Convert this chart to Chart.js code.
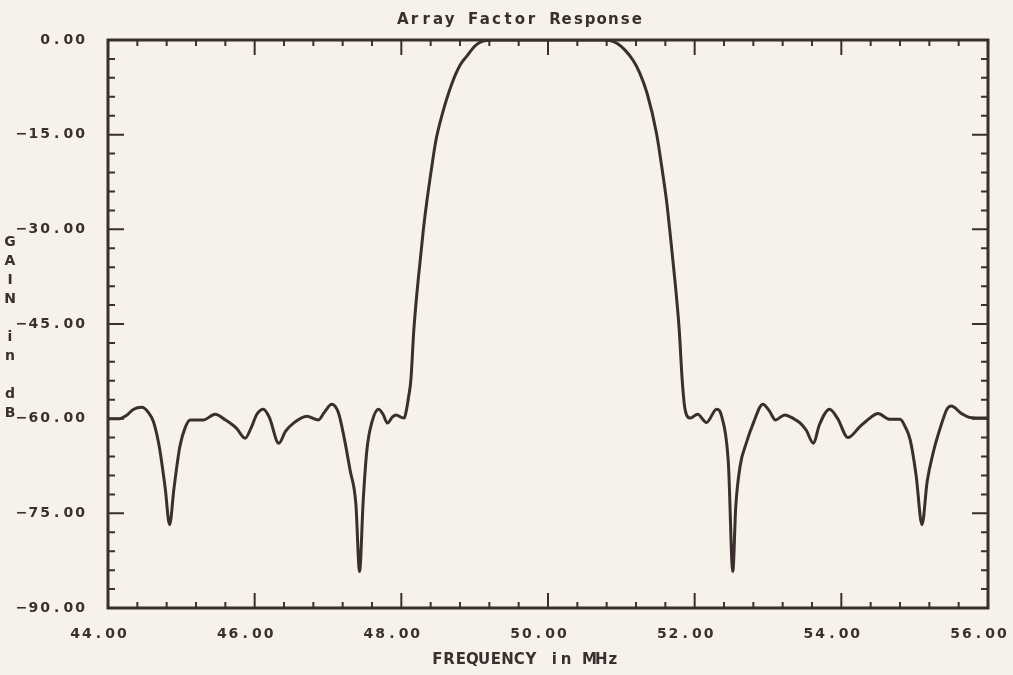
<!DOCTYPE html>
<html>
<head>
<meta charset="utf-8">
<script src="https://cdn.jsdelivr.net/npm/chart.js@4.4.1/dist/chart.umd.min.js"></script>
<style>
  html, body { margin: 0; padding: 0; background: #f6f2ea; }
  #wrap { width: 1013px; height: 675px; }
</style>
</head>
<body>
<div id="wrap"><canvas id="afChart"></canvas></div>
<script>
// frequency (MHz) and gain (dB)
const freqMHz = [
  44.00, 44.15, 44.25, 44.35, 44.46, 44.55, 44.62, 44.70, 44.78, 44.84,
  44.90, 44.98, 45.05, 45.12, 45.30, 45.46, 45.60, 45.75, 45.87, 45.95,
  46.03, 46.12, 46.20, 46.33, 46.42, 46.53, 46.71, 46.87, 46.95, 47.05,
  47.14, 47.22, 47.30, 47.38, 47.43, 47.48, 47.53, 47.60, 47.69, 47.75,
  47.81, 47.88, 47.93, 48.00, 48.04, 48.07, 48.10, 48.13, 48.17, 48.23,
  48.30, 48.35, 48.41, 48.47, 48.55, 48.69, 48.80, 48.89, 49.00, 49.07,
  49.15, 49.25, 50.00, 50.75, 50.85, 50.95, 51.05, 51.16, 51.25, 51.35,
  51.48, 51.57, 51.62, 51.66, 51.73, 51.79, 51.83, 51.87, 51.94, 52.04,
  52.16, 52.30, 52.37, 52.46, 52.52, 52.56, 52.62, 52.70, 52.80, 52.93,
  53.02, 53.10, 53.23, 53.35, 53.44, 53.52, 53.62, 53.70, 53.84, 53.95,
  54.09, 54.25, 54.40, 54.50, 54.66, 54.80, 54.88, 54.94, 55.02, 55.10,
  55.17, 55.25, 55.37, 55.44, 55.50, 55.64, 55.75, 56.00
];
const gainDb = [
  -60.0, -60.0, -59.5, -58.5, -58.2, -59.0, -60.5, -64.5, -71.0, -76.8,
  -71.0, -64.4, -61.5, -60.2, -60.2, -59.3, -60.2, -61.5, -63.1, -61.5,
  -59.3, -58.5, -59.8, -63.9, -62.0, -60.7, -59.6, -60.2, -59.0, -57.7,
  -59.0, -63.0, -68.1, -73.5, -84.2, -73.0, -65.0, -60.5, -58.5, -59.3,
  -60.7, -59.7, -59.4, -59.8, -59.9, -58.6, -56.5, -53.9, -46.0, -38.0,
  -30.1, -25.4, -20.5, -16.0, -12.1, -6.9, -4.0, -2.6, -1.0, -0.4,
  -0.1, 0.0, 0.0, 0.0, -0.1, -0.6, -1.6, -3.2, -5.2, -8.4,
  -14.8, -21.6, -25.8, -30.1, -38.0, -46.0, -53.9, -58.6, -59.9, -59.3,
  -60.6, -58.5, -59.7, -67.1, -84.2, -74.0, -67.5, -64.0, -60.7, -57.7,
  -58.8, -60.2, -59.4, -60.0, -60.7, -61.8, -63.9, -61.0, -58.5, -60.0,
  -63.0, -61.3, -59.8, -59.2, -60.1, -60.1, -61.5, -63.4, -69.0, -76.8,
  -70.0, -65.5, -60.7, -58.5, -58.0, -59.2, -59.8, -59.9
];

const xRange = [44, 56];
const yRange = [-90, 0];
const xMajorStep = 2, xMinorStep = 0.4;
const yMajorStep = 15, yMinorStep = 3;

const chartTitle = 'Array Factor Response';
const xTitle = 'FREQUENCY in MHz';
const yTitle = ['G', 'A', 'I', 'N', '', 'i', 'n', '', 'd', 'B'];

const ink = '#3a2e2e';
const paper = '#f6f2ea';
const plotFont = "'DejaVu Sans', 'Liberation Sans', sans-serif";
const pitch = 11.7; // plotter text uses a fixed character pitch

const points = freqMHz.map((f, i) => ({ x: f, y: gainDb[i] }));

const fmt = v => (v < 0 ? '\u2212' : '') + Math.abs(v).toFixed(2);

// draws text one character per fixed-width cell, centred on cx
function plotterText(ctx, text, cx, cy) {
  const start = cx - (text.length * pitch) / 2;
  ctx.textAlign = 'center';
  ctx.textBaseline = 'middle';
  for (let i = 0; i < text.length; i++) {
    ctx.fillText(text[i], start + (i + 0.5) * pitch, cy);
  }
}

const paperPlugin = {
  id: 'paper',
  beforeDraw(chart) {
    const ctx = chart.ctx;
    ctx.save();
    ctx.fillStyle = paper;
    ctx.fillRect(0, 0, chart.width, chart.height);
    ctx.restore();
  }
};

// box with inward ticks on all four sides, tick labels and titles
const framePlugin = {
  id: 'frame',
  afterDraw(chart) {
    const ctx = chart.ctx;
    const a = chart.chartArea;
    const xs = chart.scales.x, ys = chart.scales.y;
    ctx.save();
    ctx.strokeStyle = ink;
    ctx.lineWidth = 3;
    ctx.strokeRect(a.left, a.top, a.right - a.left, a.bottom - a.top);

    ctx.lineWidth = 2;
    ctx.beginPath();
    const nx = Math.round((xRange[1] - xRange[0]) / xMinorStep);
    for (let i = 1; i < nx; i++) {
      const v = xRange[0] + i * xMinorStep;
      const px = xs.getPixelForValue(v);
      const len = (i % Math.round(xMajorStep / xMinorStep) === 0) ? 15 : 6;
      ctx.moveTo(px, a.bottom); ctx.lineTo(px, a.bottom - len);
      ctx.moveTo(px, a.top); ctx.lineTo(px, a.top + len);
    }
    const ny = Math.round((yRange[1] - yRange[0]) / yMinorStep);
    for (let i = 1; i < ny; i++) {
      const v = yRange[0] + i * yMinorStep;
      const py = ys.getPixelForValue(v);
      const len = (i % Math.round(yMajorStep / yMinorStep) === 0) ? 16 : 7;
      ctx.moveTo(a.left, py); ctx.lineTo(a.left + len, py);
      ctx.moveTo(a.right, py); ctx.lineTo(a.right - len, py);
    }
    ctx.stroke();

    ctx.fillStyle = ink;
    ctx.font = 'bold 14px ' + plotFont;
    xs.ticks.forEach(t => {
      plotterText(ctx, fmt(t.value), xs.getPixelForValue(t.value) - 9.5, a.bottom + 26);
    });
    ys.ticks.forEach(t => {
      const s = fmt(t.value);
      plotterText(ctx, s, a.left - 22 - (s.length * pitch) / 2, ys.getPixelForValue(t.value));
    });

    yTitle.forEach((ch, i) => {
      if (ch) plotterText(ctx, ch, 10, 242 + i * 19);
    });

    ctx.font = 'bold 15px ' + plotFont;
    plotterText(ctx, chartTitle, a.left + (a.right - a.left) * 0.468, 20);
    plotterText(ctx, xTitle, a.left + (a.right - a.left) * 0.474, 660);
    ctx.restore();
  }
};

new Chart(document.getElementById('afChart'), {
  type: 'line',
  data: {
    datasets: [{
      data: points,
      borderColor: ink,
      borderWidth: 3,
      pointRadius: 0,
      fill: false,
      cubicInterpolationMode: 'monotone',
      borderJoinStyle: 'round',
      borderCapStyle: 'round'
    }]
  },
  options: {
    responsive: true,
    maintainAspectRatio: false,
    animation: false,
    layout: { padding: { left: 28, right: 25, top: 40, bottom: 0 } },
    plugins: {
      legend: { display: false },
      tooltip: { enabled: false },
      title: { display: false }
    },
    scales: {
      x: {
        type: 'linear',
        min: xRange[0],
        max: xRange[1],
        grid: { display: false, drawTicks: false },
        border: { display: false },
        ticks: { stepSize: xMajorStep, display: false },
        afterFit(s) {
          s.height = 67;
          s.paddingLeft = 0;
          s.paddingRight = 0;
        }
      },
      y: {
        min: yRange[0],
        max: yRange[1],
        grid: { display: false, drawTicks: false },
        border: { display: false },
        ticks: { stepSize: yMajorStep, display: false },
        afterFit(s) {
          s.width = 80;
          s.paddingTop = 0;
          s.paddingBottom = 0;
        }
      }
    }
  },
  plugins: [paperPlugin, framePlugin]
});
</script>
</body>
</html>
